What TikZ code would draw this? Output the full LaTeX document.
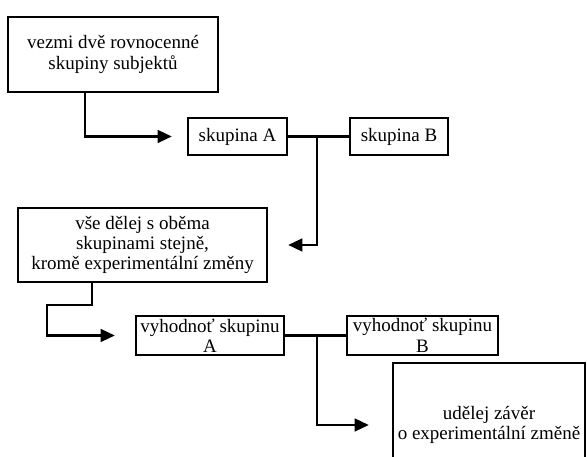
\documentclass[tikz,border=0pt]{standalone}
\usepackage{fontspec}
\setmainfont{Liberation Serif}
\usetikzlibrary{arrows.meta}
\newcommand{\px}{0.025cm}
\newcommand{\linethick}{1.7pt}

\begin{document}
\begin{tikzpicture}[x=\px, y=-\px,
  box/.style={draw, line width=\linethick, align=center, inner sep=0pt,
    font=\fontsize{13.5}{14.5}\selectfont},
  arrow/.style={line width=\linethick, -{Triangle[length=10pt,width=9pt]}}]
\useasboundingbox (0, 0) rectangle (587, 457);
\clip (0, 0) rectangle (587, 457);
\node[box, minimum width=210*\px, minimum height=75*\px] (take) at (113, 54.5) {vezmi dvě rovnocenné\\skupiny subjektů};
\node[box, minimum width=99*\px, minimum height=37*\px] (grpA) at (237.5, 136.5) {skupina A};
\node[box, minimum width=98*\px, minimum height=37*\px] (grpB) at (399, 136.5) {skupina B};
\node[box, minimum width=249*\px, minimum height=74*\px] (treat) at (142.5, 245) {vše dělej s oběma\\skupinami stejně,\\kromě experimentální změny};
\node[box, minimum width=148*\px, minimum height=39*\px] (evalA) at (210, 335.5) {vyhodnoť skupinu\\A};
\node[box, minimum width=151*\px, minimum height=39*\px] (evalB) at (422.5, 335.5) {vyhodnoť skupinu\\B};
\node[box, minimum width=192*\px, minimum height=124*\px] (concl) at (489, 425) {udělej závěr\\o experimentální změně};
% junctions
\coordinate (t1) at (85, 92);
\coordinate (j1) at (317, 136.5);
\coordinate (t2) at (92, 282);
\coordinate (j2) at (317, 335.5);
\draw[arrow, shorten >=15*\px] (t1) |- (grpA.west);
\draw[line width=\linethick] (grpA.east) -- (grpB.west);
\draw[arrow, shorten >=20*\px] (j1) |- (treat.east);
\draw[arrow, shorten >=20*\px] (t2) -- (92, 305) -- (47, 305) |- (evalA.west);
\draw[line width=\linethick] (evalA.east) -- (evalB.west);
\draw[arrow, shorten >=23*\px] (j2) |- (concl.west);
\end{tikzpicture}
\end{document}
